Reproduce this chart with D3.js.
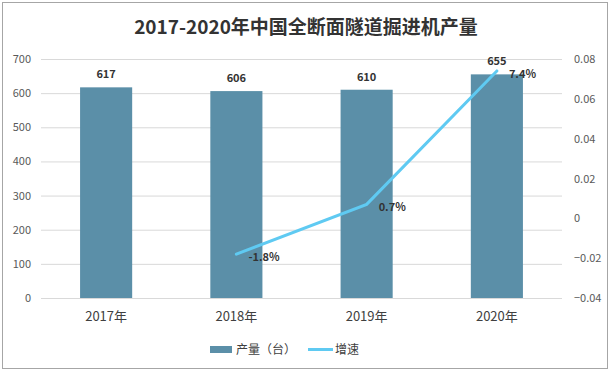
<!DOCTYPE html>
<html>
<head>
<meta charset="utf-8">
<script src="https://cdn.jsdelivr.net/npm/d3@7"></script>
<style>
  body { margin: 0; background: #fff; }
  svg text { font-family: "Noto Sans CJK SC", "Noto Sans", sans-serif; }
</style>
</head>
<body>
<div id="chart"></div>
<script>
// données
const years = ["2017年", "2018年", "2019年", "2020年"];
const output = [617, 606, 610, 655];
const growth = [null, -0.018, 0.007, 0.074];
const growthLabels = [null, "-1.8%", "0.7%", "7.4%"];
const leftTicks = [0, 100, 200, 300, 400, 500, 600, 700];
const rightTicks = [-0.04, -0.02, 0, 0.02, 0.04, 0.06, 0.08];

const width = 613, height = 373;
const margin = { top: 59, right: 51, bottom: 75, left: 41 };

const svg = d3.select("#chart")
  .append("svg")
  .attr("width", width)
  .attr("height", height);

// cadre
svg.append("rect")
  .attr("x", 2.5).attr("y", 2.5)
  .attr("width", 605).attr("height", 366)
  .attr("fill", "#fff")
  .attr("stroke", "#a6a6a6");

svg.append("text")
  .attr("x", 306).attr("y", 34)
  .attr("text-anchor", "middle")
  .attr("font-size", 19)
  .attr("font-weight", "bold")
  .attr("fill", "#333")
  .text("2017-2020年中国全断面隧道掘进机产量");

const x = d3.scaleBand()
  .domain(years)
  .range([margin.left, width - margin.right])
  .paddingInner(0.6)
  .paddingOuter(0.3);

const y = d3.scaleLinear()
  .domain([0, 700])
  .range([height - margin.bottom, margin.top]);

const y2 = d3.scaleLinear()
  .domain([-0.04, 0.08])
  .range([height - margin.bottom, margin.top]);

// grille
svg.append("g")
  .selectAll("line")
  .data(leftTicks)
  .join("line")
  .attr("x1", margin.left).attr("x2", width - margin.right)
  .attr("y1", d => y(d) + 0.5).attr("y2", d => y(d) + 0.5)
  .attr("stroke", "#d9d9d9");

// axe gauche
const axL = svg.append("g")
  .attr("transform", `translate(${margin.left - 10},0)`)
  .call(d3.axisLeft(y).tickValues(leftTicks).tickSize(0).tickPadding(0));
axL.select(".domain").remove();
axL.selectAll("text").attr("font-size", 11).attr("fill", "#595959");

// axe droit
const axR = svg.append("g")
  .attr("transform", `translate(${width - margin.right + 12},0)`)
  .call(d3.axisRight(y2).tickValues(rightTicks).tickSize(0).tickPadding(0)
    .tickFormat(d => d === 0 ? "0" : d3.format(".2f")(d)));
axR.select(".domain").remove();
axR.selectAll("text").attr("font-size", 11).attr("fill", "#595959");

// axe x
const axX = svg.append("g")
  .attr("transform", `translate(0,${height - margin.bottom})`)
  .call(d3.axisBottom(x).tickSize(0).tickPadding(14));
axX.select(".domain").remove();
axX.selectAll("text").attr("font-size", 13).attr("fill", "#404040");

// barres
svg.append("g")
  .selectAll("rect")
  .data(output)
  .join("rect")
  .attr("x", (d, i) => x(years[i]))
  .attr("y", d => y(d))
  .attr("width", x.bandwidth())
  .attr("height", d => y(0) - y(d))
  .attr("fill", "#5b8fa8");

svg.append("g")
  .selectAll("text")
  .data(output)
  .join("text")
  .attr("x", (d, i) => x(years[i]) + x.bandwidth() / 2)
  .attr("y", d => y(d) - 9)
  .attr("text-anchor", "middle")
  .attr("font-size", 11)
  .attr("font-weight", "bold")
  .attr("fill", "#333")
  .text(d => d);

// ligne de croissance
const pts = growth.map((g, i) => ({ year: years[i], g: g, label: growthLabels[i] }))
  .filter(d => d.g !== null);

const line = d3.line()
  .x(d => x(d.year) + x.bandwidth() / 2)
  .y(d => y2(d.g));

svg.append("path")
  .datum(pts)
  .attr("fill", "none")
  .attr("stroke", "#5fcaf2")
  .attr("stroke-width", 3)
  .attr("stroke-linecap", "round")
  .attr("d", line);

svg.append("g")
  .selectAll("text")
  .data(pts)
  .join("text")
  .attr("x", d => x(d.year) + x.bandwidth() / 2 + 12)
  .attr("y", d => y2(d.g) + 7)
  .attr("font-size", 11)
  .attr("font-weight", "bold")
  .attr("fill", "#333")
  .text(d => d.label);

// légende
const lg = svg.append("g");
lg.append("rect")
  .attr("x", 210).attr("y", 346)
  .attr("width", 22).attr("height", 7)
  .attr("fill", "#5b8fa8");
lg.append("text")
  .attr("x", 236).attr("y", 354)
  .attr("font-size", 12).attr("fill", "#404040")
  .text("产量（台）");
lg.append("line")
  .attr("x1", 308).attr("x2", 333)
  .attr("y1", 349.5).attr("y2", 349.5)
  .attr("stroke", "#5fcaf2").attr("stroke-width", 3);
lg.append("text")
  .attr("x", 335).attr("y", 354)
  .attr("font-size", 12).attr("fill", "#404040")
  .text("增速");
</script>
</body>
</html>
